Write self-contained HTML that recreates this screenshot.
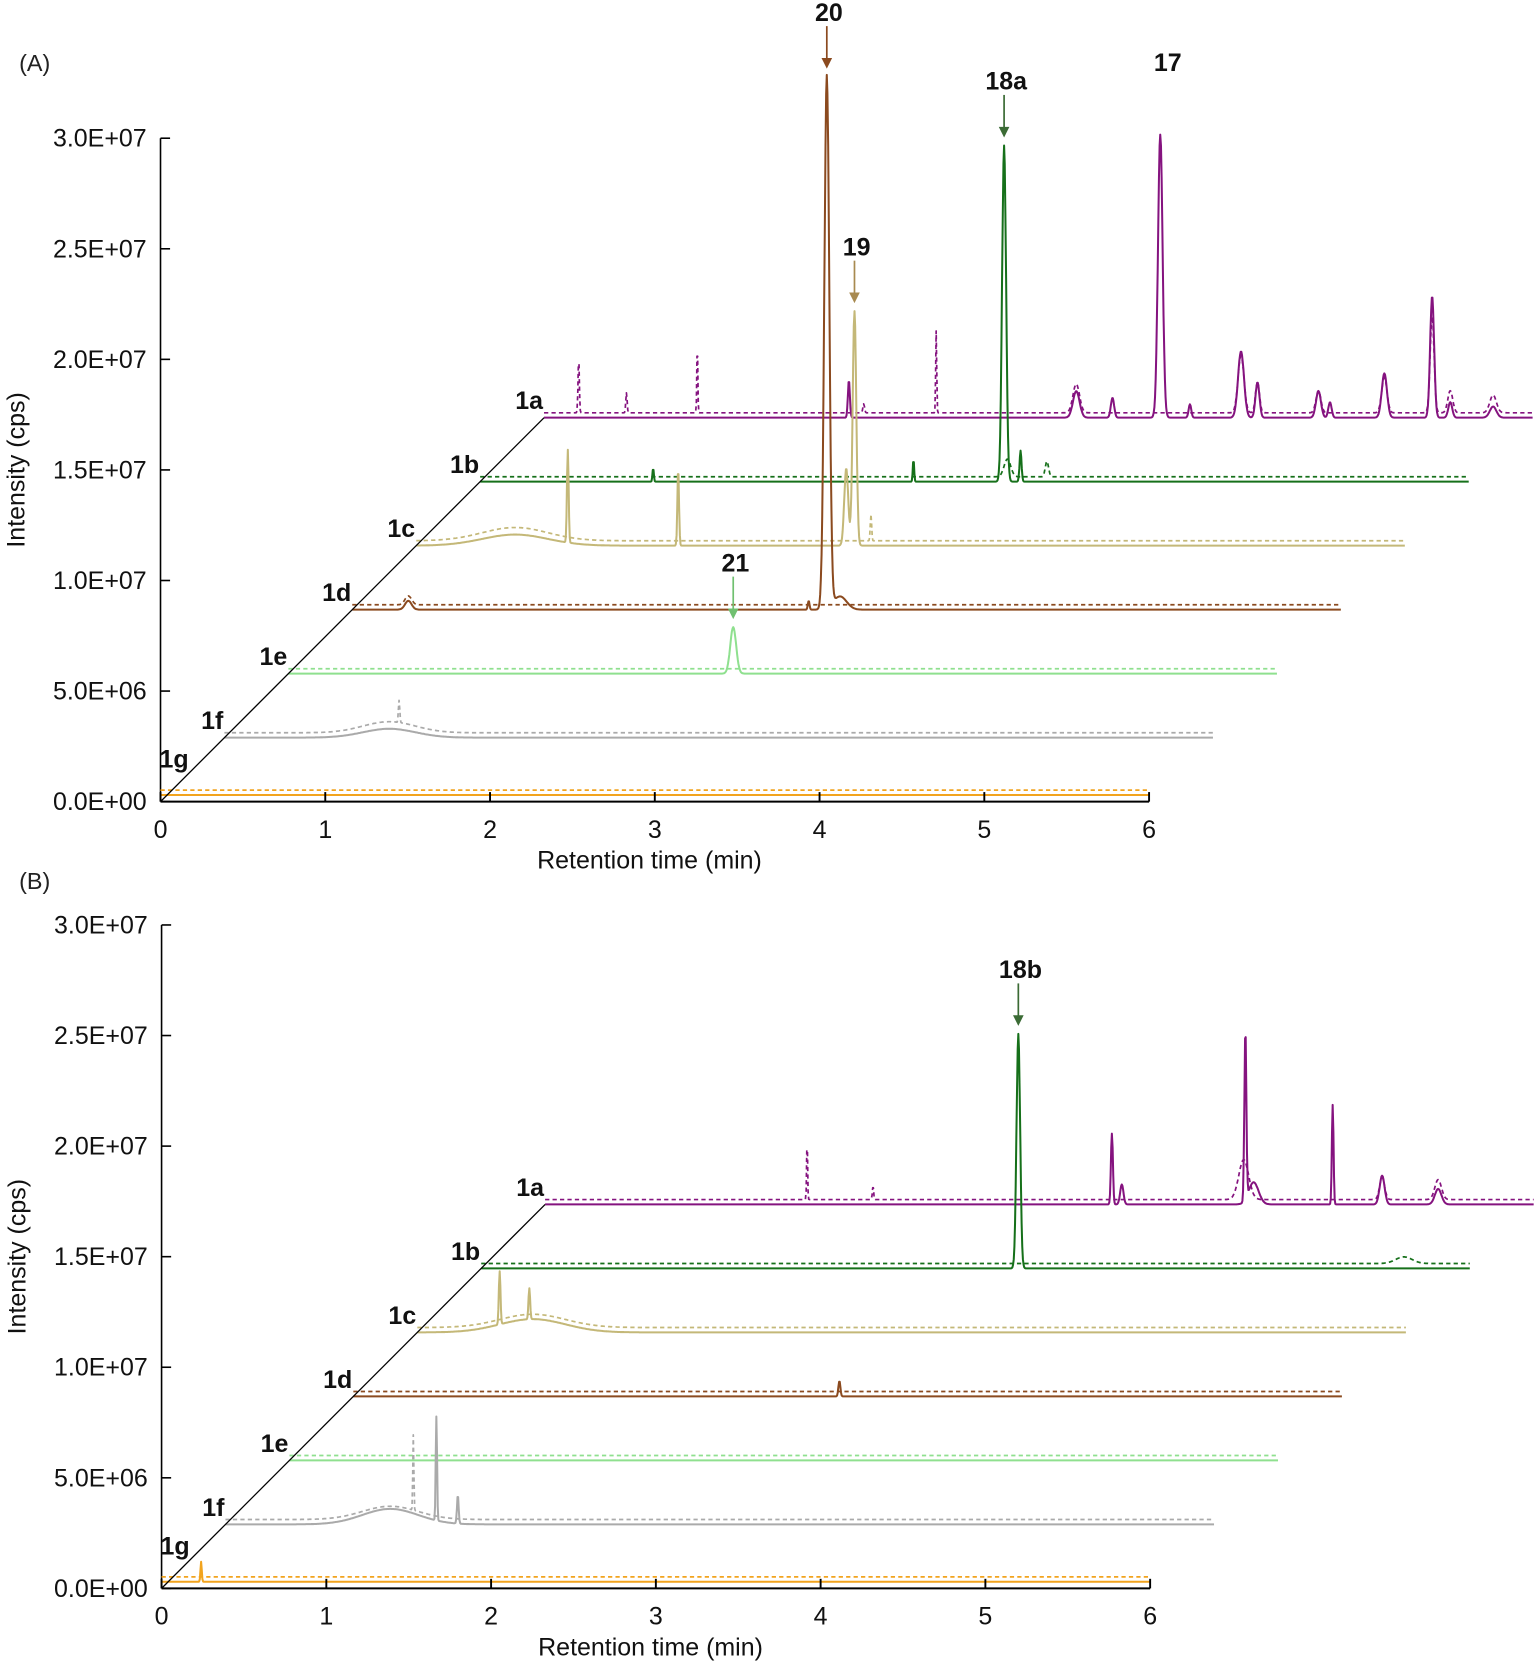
<!DOCTYPE html>
<html><head><meta charset="utf-8">
<style>
html,body{margin:0;padding:0;background:#fff;}
svg{display:block;}
text{font-family:"Liberation Sans",Arial,sans-serif;}
</style></head>
<body>
<svg id="chart" width="1536" height="1666" viewBox="0 0 1445 1567" preserveAspectRatio="none" xmlns="http://www.w3.org/2000/svg"></svg>
<script>
// ---- data (intensity in units of 1E6 cps, time in min, local to each trace) ----
const traceNames = ["1a","1b","1c","1d","1e","1f","1g"];
const traceColors = ["#85137f","#16701a","#c4b878","#8b4a1f","#8fe08f","#aaaaaa","#f2a41e"];
const traceIndex = [6,5,4,3,2,1,0];
const xTicks = [0,1,2,3,4,5,6];
const yTicks = [0,5,10,15,20,25,30];
const yTickLabels = ["0.0E+00","5.0E+06","1.0E+07","1.5E+07","2.0E+07","2.5E+07","3.0E+07"];
// peaks: [time, height, sigma]
const peaksA_solid = {
  "1a": [[1.85,1.7,0.006],[3.23,1.2,0.02],[3.45,0.9,0.01],[3.74,12.8,0.014],[3.92,0.6,0.008],[4.23,3.0,0.018],[4.33,1.6,0.012],[4.70,1.2,0.015],[4.77,0.7,0.01],[5.10,2.0,0.016],[5.39,5.5,0.012],[5.50,0.7,0.012],[5.76,0.5,0.02]],
  "1b": [[1.05,0.6,0.004],[2.63,1.0,0.004],[3.18,15.2,0.012],[3.28,1.4,0.006]],
  "1c": [[0.6,0.5,0.2],[0.92,4.2,0.005],[1.59,3.5,0.005],[2.61,3.5,0.012],[2.66,10.6,0.011]],
  "1d": [[0.34,0.4,0.02],[2.77,0.4,0.005],[2.88,24.1,0.015],[2.96,0.6,0.04]],
  "1e": [[2.70,2.1,0.018]],
  "1f": [[1.0,0.4,0.16]],
  "1g": []
};
const peaksA_dashed = {
  "1a": [[0.21,2.5,0.004],[0.50,0.9,0.004],[0.93,3.2,0.003],[1.94,0.4,0.005],[2.38,3.7,0.003],[3.23,1.3,0.02],[4.23,2.6,0.018],[4.33,1.4,0.012],[4.70,1.0,0.015],[5.10,1.6,0.016],[5.39,4.4,0.012],[5.50,1.0,0.015],[5.76,0.8,0.02]],
  "1b": [[3.20,0.8,0.02],[3.44,0.7,0.01]],
  "1c": [[0.6,0.6,0.2],[2.76,1.2,0.004]],
  "1d": [[0.34,0.4,0.02]],
  "1e": [],
  "1f": [[1.0,0.5,0.16],[1.06,1.0,0.004]],
  "1g": []
};
const peaksB_solid = {
  "1a": [[3.44,3.2,0.006],[3.50,0.9,0.01],[4.25,7.7,0.006],[4.30,1.0,0.03],[4.78,4.5,0.005],[5.08,1.3,0.015],[5.42,0.7,0.02]],
  "1b": [[3.26,10.6,0.011]],
  "1c": [[0.7,0.6,0.2],[0.50,2.4,0.005],[0.68,1.4,0.005]],
  "1d": [[2.95,0.7,0.006]],
  "1e": [],
  "1f": [[1.0,0.7,0.17],[1.28,4.7,0.004],[1.41,1.3,0.005]],
  "1g": [[0.24,0.9,0.004]]
};
const peaksB_dashed = {
  "1a": [[1.59,2.8,0.003],[1.99,0.6,0.004],[4.24,1.8,0.03],[5.08,1.0,0.015],[5.42,0.9,0.02]],
  "1b": [[5.6,0.3,0.05]],
  "1c": [[0.7,0.6,0.2]],
  "1d": [],
  "1e": [],
  "1f": [[1.0,0.6,0.17],[1.14,3.4,0.003]],
  "1g": []
};
const annotationsA = [["20","1d",2.88,24.1,"#8b4a1f"],["19","1c",2.66,10.6,"#a88a50"],["18a","1b",3.18,15.2,"#3b6b35"],["21","1e",2.70,2.1,"#70c070"]];
const labelA17 = ["17","1a",3.74,12.8];
const annotationsB = [["18b","1b",3.26,10.6,"#3b6b35"]];

// ---- geometry ----
const NS="http://www.w3.org/2000/svg";
const svg=document.getElementById('chart');
const PX_MIN=155, PX_E6=20.8, DT=0.388, DI=2.894;
function mk(tag,attrs,parent){const e=document.createElementNS(NS,tag);for(const k in attrs)e.setAttribute(k,attrs[k]);(parent||svg).appendChild(e);return e;}

function drawPanel(ox,oy,label,labelX,labelY,solid,dashed,annos,extra){
  const g=mk('g',{});
  
  
  const xs=t=>ox+t*PX_MIN, ys=v=>oy-v*PX_E6;
  const pl=mk('text',{x:labelX,y:labelY,'font-size':22,fill:'#222'},g);pl.textContent='('+label+')';
  
  const ya=mk('line',{x1:xs(0),y1:ys(0),x2:xs(0),y2:ys(30),stroke:'#000','stroke-width':1.5},g);
  
  yTicks.forEach((v,i)=>{
    mk('line',{x1:xs(0),y1:ys(v),x2:xs(0)+9,y2:ys(v),stroke:'#000','stroke-width':1.5},g);
    const t=mk('text',{x:xs(0)-13,y:ys(v)+8,'font-size':23.5,'text-anchor':'end',fill:'#111'},g);
    t.textContent=yTickLabels[i];
    
  });
  const yt=mk('text',{x:0,y:0,'font-size':23.5,'text-anchor':'middle',fill:'#111',transform:`translate(${ox-128},${ys(15)}) rotate(-90)`},g);
  yt.textContent='Intensity (cps)';
  traceNames.forEach((nm,k)=>{
    const i=traceIndex[k], col=traceColors[k];
    [[dashed,true],[solid,false]].forEach(([set,isD])=>{
      let d='';
      for(let t=0;t<=6.0001;t+=0.004){
        let v=isD?0.22:0.0;
        (set[nm]||[]).forEach(p=>{const z=(t-p[0])/p[2];v+=p[1]*Math.exp(-0.5*z*z);});
        const X=xs(t+i*DT), Y=ys(v+i*DI+(i===0?0.3:0));
        d+=(d?'L':'M')+X.toFixed(1)+' '+Y.toFixed(1);
      }
      const p=mk('path',{d:d,fill:'none',stroke:col,'stroke-width':isD?1.6:1.9,'stroke-dasharray':isD?'4,3':'none','stroke-linejoin':'round'},g);
      
      
    });
    let lx=xs(i*DT)-1, ly=ys(i*DI)-8, anchor='end';
    if(i===0){lx=xs(0)-1; ly=ys(0)-32; anchor='start';}
    const lb=mk('text',{x:lx,y:ly,'font-size':23.5,'font-weight':'bold','text-anchor':anchor,fill:'#111'},g);
    lb.textContent=nm;
  });
  const dg=mk('line',{x1:xs(0),y1:ys(0),x2:xs(6*DT),y2:ys(6*DI),stroke:'#000','stroke-width':1.2},g);
  
  const xa=mk('line',{x1:xs(0),y1:ys(0),x2:xs(6),y2:ys(0),stroke:'#000','stroke-width':1.8},g);
  
  xTicks.forEach(v=>{
    mk('line',{x1:xs(v),y1:ys(0),x2:xs(v),y2:ys(0)-9,stroke:'#000','stroke-width':1.8},g);
    const t=mk('text',{x:xs(v),y:ys(0)+34,'font-size':23.5,'text-anchor':'middle',fill:'#111'},g);
    t.textContent=v;
  });
  const xt=mk('text',{x:xs(3)-5,y:ys(0)+63,'font-size':23.5,'text-anchor':'middle',fill:'#111'},g);
  xt.textContent='Retention time (min)';
  annos.forEach(a=>{
    const i=traceIndex[traceNames.indexOf(a[1])];
    const X=xs(a[2]+i*DT), Y=ys(a[3]+i*DI+0.22)-3;
    const ag=mk('g',{},g);
    mk('line',{x1:X,y1:Y-40,x2:X,y2:Y-6,stroke:a[4],'stroke-width':1.6},ag);
    mk('polygon',{points:`${X-5},${Y-10} ${X+5},${Y-10} ${X},${Y}`,fill:a[4]},ag);
    const t=mk('text',{x:X+2,y:Y-45,'font-size':23.5,'font-weight':'bold','text-anchor':'middle',fill:'#111'},ag);t.textContent=a[0];
  });
  if(extra){
    const i=traceIndex[traceNames.indexOf(extra[1])];
    const t=mk('text',{x:xs(extra[2]+i*DT)+7,y:ys(extra[3]+i*DI)-60,'font-size':23.5,'font-weight':'bold','text-anchor':'middle',fill:'#111'},g);
    t.textContent=extra[0];
  }
}
drawPanel(151,754,'A',18,67,peaksA_solid,peaksA_dashed,annotationsA,labelA17);
drawPanel(152,1494,'B',18,836,peaksB_solid,peaksB_dashed,annotationsB,null);
</script>
</body></html>
